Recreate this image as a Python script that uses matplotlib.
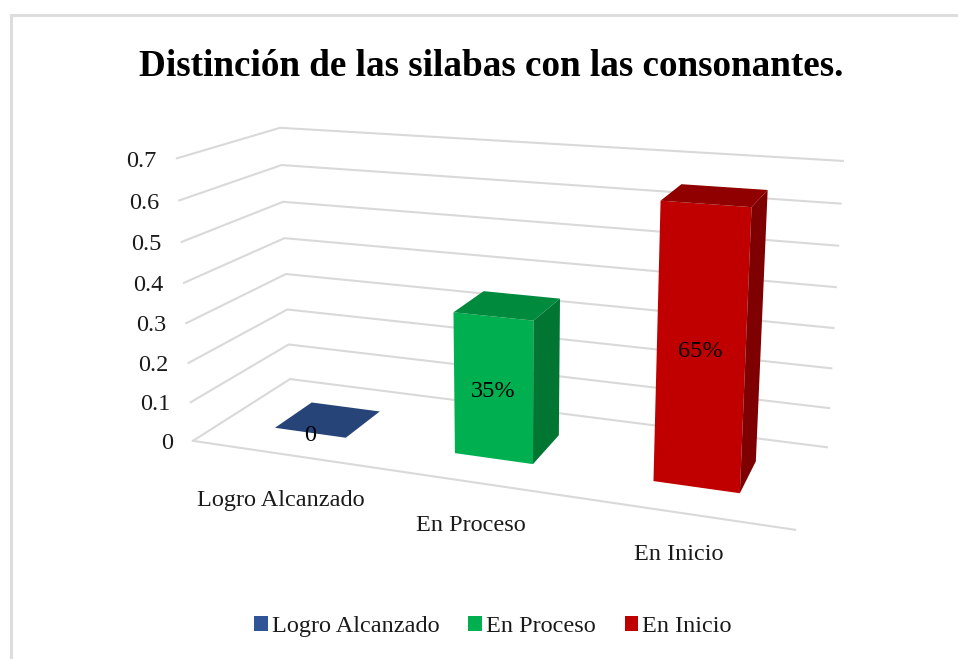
import numpy as np
import matplotlib
matplotlib.use("Agg")
import matplotlib.pyplot as plt
from matplotlib.patches import Polygon, Patch

categories = ["Logro Alcanzado", "En Proceso", "En Inicio"]
values = [0, 0.35, 0.65]
bar_labels = ["0", "35%", "65%"]
ticks = [0, 0.1, 0.2, 0.3, 0.4, 0.5, 0.6, 0.7]
tick_labels = ["0", "0.1", "0.2", "0.3", "0.4", "0.5", "0.6", "0.7"]
title = "Distinción de las silabas con las consonantes."
front_colors = ["#264478", "#00B050", "#C00000"]
top_colors = ["#264478", "#008A3E", "#900000"]
side_colors = ["#1B3158", "#007632", "#7F0000"]
legend_colors = ["#2F5597", "#00B050", "#C00000"]

# Calibration of the chart's perspective: plot box corner -> pixel
box_u = [0, 0, 0, 0, 1, 1, 1]
box_v = [0, .7, 0, .7, 0, .7, 0]
box_d = [0, 0, 1, 1, 1, 1, 0]
box_px = [193, 177, 290, 280, 827, 843, 795]
box_py = [441, 158, 379, 128, 447, 161, 530]

A = []
b = []
for u, v, d, px, py in zip(box_u, box_v, box_d, box_px, box_py):
    A.append([u, v, d, 1, 0, 0, 0, 0, -px*u, -px*v, -px*d]); b.append(px)
    A.append([0, 0, 0, 0, u, v, d, 1, -py*u, -py*v, -py*d]); b.append(py)
P = np.append(np.linalg.lstsq(np.array(A, float), np.array(b, float), rcond=None)[0], 1).reshape(3, 4)


def proj(u, v, d):
    x, y, w = P @ np.array([u, v, d, 1.0])
    return x / w, y / w


plt.rcParams["font.family"] = ["Liberation Serif", "DejaVu Serif"]
fig = plt.figure(figsize=(9.58, 6.59), dpi=100, facecolor="white")
ax = fig.add_axes([0, 0, 1, 1])
ax.set_xlim(0, 958)
ax.set_ylim(659, 0)
ax.axis("off")

# chart frame
ax.plot([11, 11, 958], [659, 14.7, 14.7], color="#DDDDDD", lw=2.2, solid_joinstyle="miter")

grid = "#D9D9D9"
for t, lab in zip(ticks, tick_labels):
    pts = [proj(0, t, 0), proj(0, t, 1), proj(1, t, 1)]
    ax.plot(*zip(*pts), color=grid, lw=1.5, zorder=1)
    ax.annotate(lab, pts[0], xytext=(-14.5, -2), textcoords="offset points", ha="right", va="center",
                fontsize=17.5, color="#1a1a1a")
ax.plot(*zip(proj(0, 0, 0), proj(1, 0, 0)), color=grid, lw=1.5, zorder=1)

n = len(categories)
bar_w = 0.135
d0, d1 = 0.30, 0.70
label_dx = [0, 0, -1.5]
label_dy = [-33.7, -31.5, -30]
for i, (cat, val, lab) in enumerate(zip(categories, values, bar_labels)):
    uc = (i + .5) / n
    l, r = uc - bar_w / 2, uc + bar_w / 2
    front = [proj(l, 0, d0), proj(r, 0, d0), proj(r, val, d0), proj(l, val, d0)]
    top = [proj(l, val, d0), proj(r, val, d0), proj(r, val, d1), proj(l, val, d1)]
    side = [proj(r, 0, d0), proj(r, 0, d1), proj(r, val, d1), proj(r, val, d0)]
    ax.add_patch(Polygon(front, closed=True, fc=front_colors[i], ec="none", zorder=3))
    ax.add_patch(Polygon(side, closed=True, fc=side_colors[i], ec="none", zorder=3))
    ax.add_patch(Polygon(top, closed=True, fc=top_colors[i], ec="none", zorder=3))
    fc = proj(uc, val / 2, d0)
    ax.annotate(lab, fc, xytext=(0, -2), textcoords="offset points", ha="center", va="center",
                fontsize=17.5, color="black", zorder=5)
    p = proj(uc, 0, 0)
    ax.annotate(cat, p, xytext=(label_dx[i], label_dy[i]), textcoords="offset points", ha="center", va="center",
                fontsize=17.5, color="#1a1a1a")

ax.text(491, 67, title, ha="center", va="center", fontsize=26.7, fontweight="bold", color="black")

handles = [Patch(fc=c, ec="none", label=k) for c, k in zip(legend_colors, categories)]
ax.legend(handles=handles, loc="center", bbox_to_anchor=(0.5146, 0.049), ncols=3, frameon=False,
          fontsize=17.5, handlelength=0.55, handleheight=0.55, handletextpad=0.17, columnspacing=1.2,
          labelcolor="#1a1a1a")

fig.savefig("out.png", dpi=100)
